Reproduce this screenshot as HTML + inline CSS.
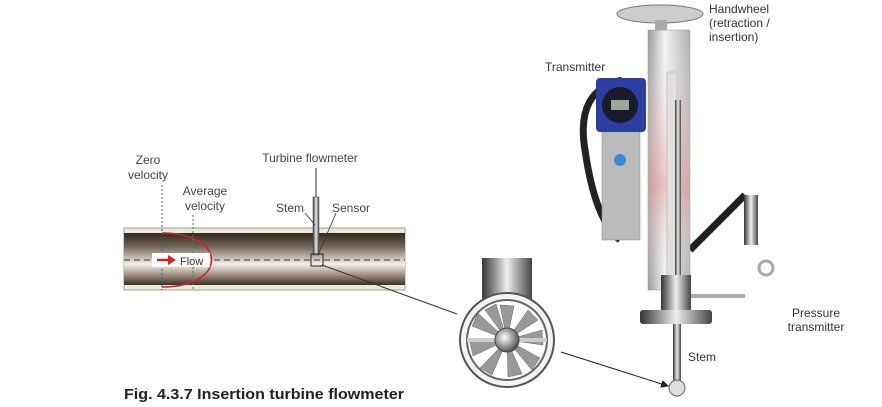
<!DOCTYPE html>
<html><head><meta charset="utf-8"><style>
body{margin:0;background:#fff;}
svg{display:block;font-family:"Liberation Sans",Arial,sans-serif;}
</style></head><body>
<svg width="882" height="407" viewBox="0 0 882 407" xmlns="http://www.w3.org/2000/svg">
<defs>
<linearGradient id="pipe" x1="0" y1="0" x2="0" y2="1">
<stop offset="0" stop-color="#352a20"/><stop offset="0.25" stop-color="#6e6052"/><stop offset="0.6" stop-color="#f4f0ea"/><stop offset="0.85" stop-color="#8a7a6a"/><stop offset="1" stop-color="#3a3028"/>
</linearGradient>
<linearGradient id="cyl" x1="0" y1="0" x2="1" y2="0">
<stop offset="0" stop-color="#333"/><stop offset="0.5" stop-color="#eee"/><stop offset="1" stop-color="#444"/>
</linearGradient>
<linearGradient id="col" x1="0" y1="0" x2="1" y2="0">
<stop offset="0" stop-color="#9a9a9a"/><stop offset="0.4" stop-color="#f2f2f2"/><stop offset="1" stop-color="#b0b0b0"/>
</linearGradient>
<linearGradient id="colv" x1="0" y1="0" x2="0" y2="1">
<stop offset="0" stop-color="#fff" stop-opacity="0"/><stop offset="0.6" stop-color="#e8a0a0" stop-opacity="0.6"/><stop offset="1" stop-color="#fff" stop-opacity="0"/>
</linearGradient>
<radialGradient id="hub" cx="0.4" cy="0.4" r="0.6"><stop offset="0" stop-color="#fff"/><stop offset="1" stop-color="#555"/></radialGradient>
<marker id="ah" markerWidth="8" markerHeight="8" refX="7" refY="4" orient="auto"><path d="M0,0 L8,4 L0,8 z" fill="#222"/></marker>
</defs>

<rect x="124" y="228" width="281" height="62" fill="#e8ecd8" stroke="#888" stroke-width="0.8"/>
<rect x="124" y="233" width="281" height="52" fill="url(#pipe)"/>
<line x1="124" y1="260" x2="405" y2="260" stroke="#333" stroke-dasharray="6,4" stroke-width="1"/>
<line x1="162" y1="185" x2="162" y2="290" stroke="#2a5a8a" stroke-dasharray="2,2" stroke-width="1"/>
<line x1="193" y1="215" x2="193" y2="290" stroke="#3a8a3a" stroke-dasharray="2,2" stroke-width="1"/>
<path d="M162,233 C228,233 228,287 162,287" fill="none" stroke="#d2222a" stroke-width="1.5"/>
<rect x="152" y="253" width="58" height="14" fill="#fff"/>
<path d="M157,260 L172,260" stroke="#d2222a" stroke-width="2.5"/>
<path d="M168,255 L176,260 L168,265 z" fill="#d2222a"/>
<text x="180" y="265" font-size="11" fill="#333">Flow</text>
<line x1="316" y1="168" x2="316" y2="197" stroke="#333" stroke-width="1"/>
<rect x="313" y="197" width="6" height="58" fill="url(#cyl)" stroke="#444" stroke-width="0.5"/>
<rect x="311" y="254" width="12" height="12" fill="none" stroke="#222" stroke-width="1"/>
<line x1="305" y1="213" x2="315" y2="225" stroke="#333" stroke-width="0.8"/>
<line x1="336" y1="213" x2="318" y2="255" stroke="#333" stroke-width="0.8"/>
<line x1="322" y1="265" x2="457" y2="314" stroke="#333" stroke-width="1"/>
<text x="148" y="164" font-size="12" fill="#444" text-anchor="middle">Zero</text>
<text x="148" y="179" font-size="12" fill="#444" text-anchor="middle">velocity</text>
<text x="205" y="195" font-size="12" fill="#444" text-anchor="middle">Average</text>
<text x="205" y="210" font-size="12" fill="#444" text-anchor="middle">velocity</text>
<text x="310" y="162" font-size="12" fill="#444" text-anchor="middle">Turbine flowmeter</text>
<text x="276" y="212" font-size="12" fill="#444">Stem</text>
<text x="332" y="212" font-size="12" fill="#444">Sensor</text>

<rect x="482" y="258" width="50" height="45" fill="url(#cyl)"/>
<circle cx="507" cy="340" r="47" fill="#f4f4f4" stroke="#555" stroke-width="2"/>
<circle cx="507" cy="340" r="40" fill="#fff" stroke="#666" stroke-width="2"/>
<g fill="#999" stroke="#666" stroke-width="0.5">
<path d="M507,340 L500,305 L514,306 z"/><path d="M507,340 L528,310 L538,320 z"/><path d="M507,340 L542,330 L543,345 z"/>
<path d="M507,340 L540,358 L532,370 z"/><path d="M507,340 L522,374 L508,377 z"/><path d="M507,340 L492,375 L480,368 z"/>
<path d="M507,340 L473,356 L470,342 z"/><path d="M507,340 L472,326 L478,313 z"/><path d="M507,340 L485,310 L496,304 z"/>
</g>
<rect x="467" y="338" width="80" height="4" fill="#ccc"/>
<circle cx="507" cy="340" r="12" fill="url(#hub)" stroke="#444"/>
<line x1="561" y1="352" x2="668" y2="386" stroke="#222" stroke-width="1" marker-end="url(#ah)"/>

<path d="M622,80 Q575,90 585,150 Q595,220 620,240" fill="none" stroke="#222" stroke-width="7"/>
<path d="M650,65 Q690,60 678,110" fill="none" stroke="#222" stroke-width="6"/>
<path d="M690,250 Q730,210 745,195" fill="none" stroke="#222" stroke-width="7"/>
<ellipse cx="660" cy="14" rx="43" ry="9" fill="#ccc" stroke="#777"/>
<rect x="655" y="20" width="12" height="12" fill="#aaa"/>
<rect x="648" y="30" width="42" height="260" fill="url(#col)" stroke="#999" stroke-width="0.5"/>
<rect x="648" y="30" width="42" height="260" fill="url(#colv)"/>
<rect x="667" y="72" width="10" height="210" fill="#e0e0e0" stroke="#aaa" stroke-width="0.5"/>
<rect x="675" y="100" width="6" height="180" fill="url(#cyl)"/>
<rect x="602" y="130" width="38" height="110" fill="#bbb" stroke="#888" stroke-width="0.5"/>
<circle cx="620" cy="160" r="6" fill="#3a8ad0"/>
<rect x="596" y="78" width="50" height="54" rx="4" fill="#2c3ea0"/>
<circle cx="620" cy="105" r="18" fill="#1a1a2a"/>
<rect x="611" y="100" width="18" height="10" fill="#9aa89a"/>
<rect x="744" y="195" width="14" height="50" fill="url(#cyl)"/>
<circle cx="766" cy="268" r="7" fill="none" stroke="#aaa" stroke-width="3"/>
<line x1="690" y1="296" x2="745" y2="296" stroke="#aaa" stroke-width="4"/>
<rect x="661" y="275" width="30" height="35" fill="url(#cyl)"/>
<rect x="640" y="310" width="72" height="14" rx="3" fill="url(#cyl)"/>
<rect x="673" y="324" width="8" height="57" fill="url(#cyl)"/>
<circle cx="677" cy="388" r="8" fill="#ddd" stroke="#666"/>
<text x="709" y="13" font-size="12" fill="#333">Handwheel</text>
<text x="709" y="27" font-size="12" fill="#333">(retraction /</text>
<text x="709" y="41" font-size="12" fill="#333">insertion)</text>
<text x="545" y="71" font-size="12" fill="#333">Transmitter</text>
<text x="816" y="317" font-size="12" fill="#333" text-anchor="middle">Pressure</text>
<text x="816" y="331" font-size="12" fill="#333" text-anchor="middle">transmitter</text>
<text x="688" y="361" font-size="12" fill="#333">Stem</text>
<text x="124" y="399" font-size="15" font-weight="bold" fill="#222" textLength="280" lengthAdjust="spacingAndGlyphs">Fig. 4.3.7  Insertion turbine flowmeter</text>
</svg>
</body></html>
